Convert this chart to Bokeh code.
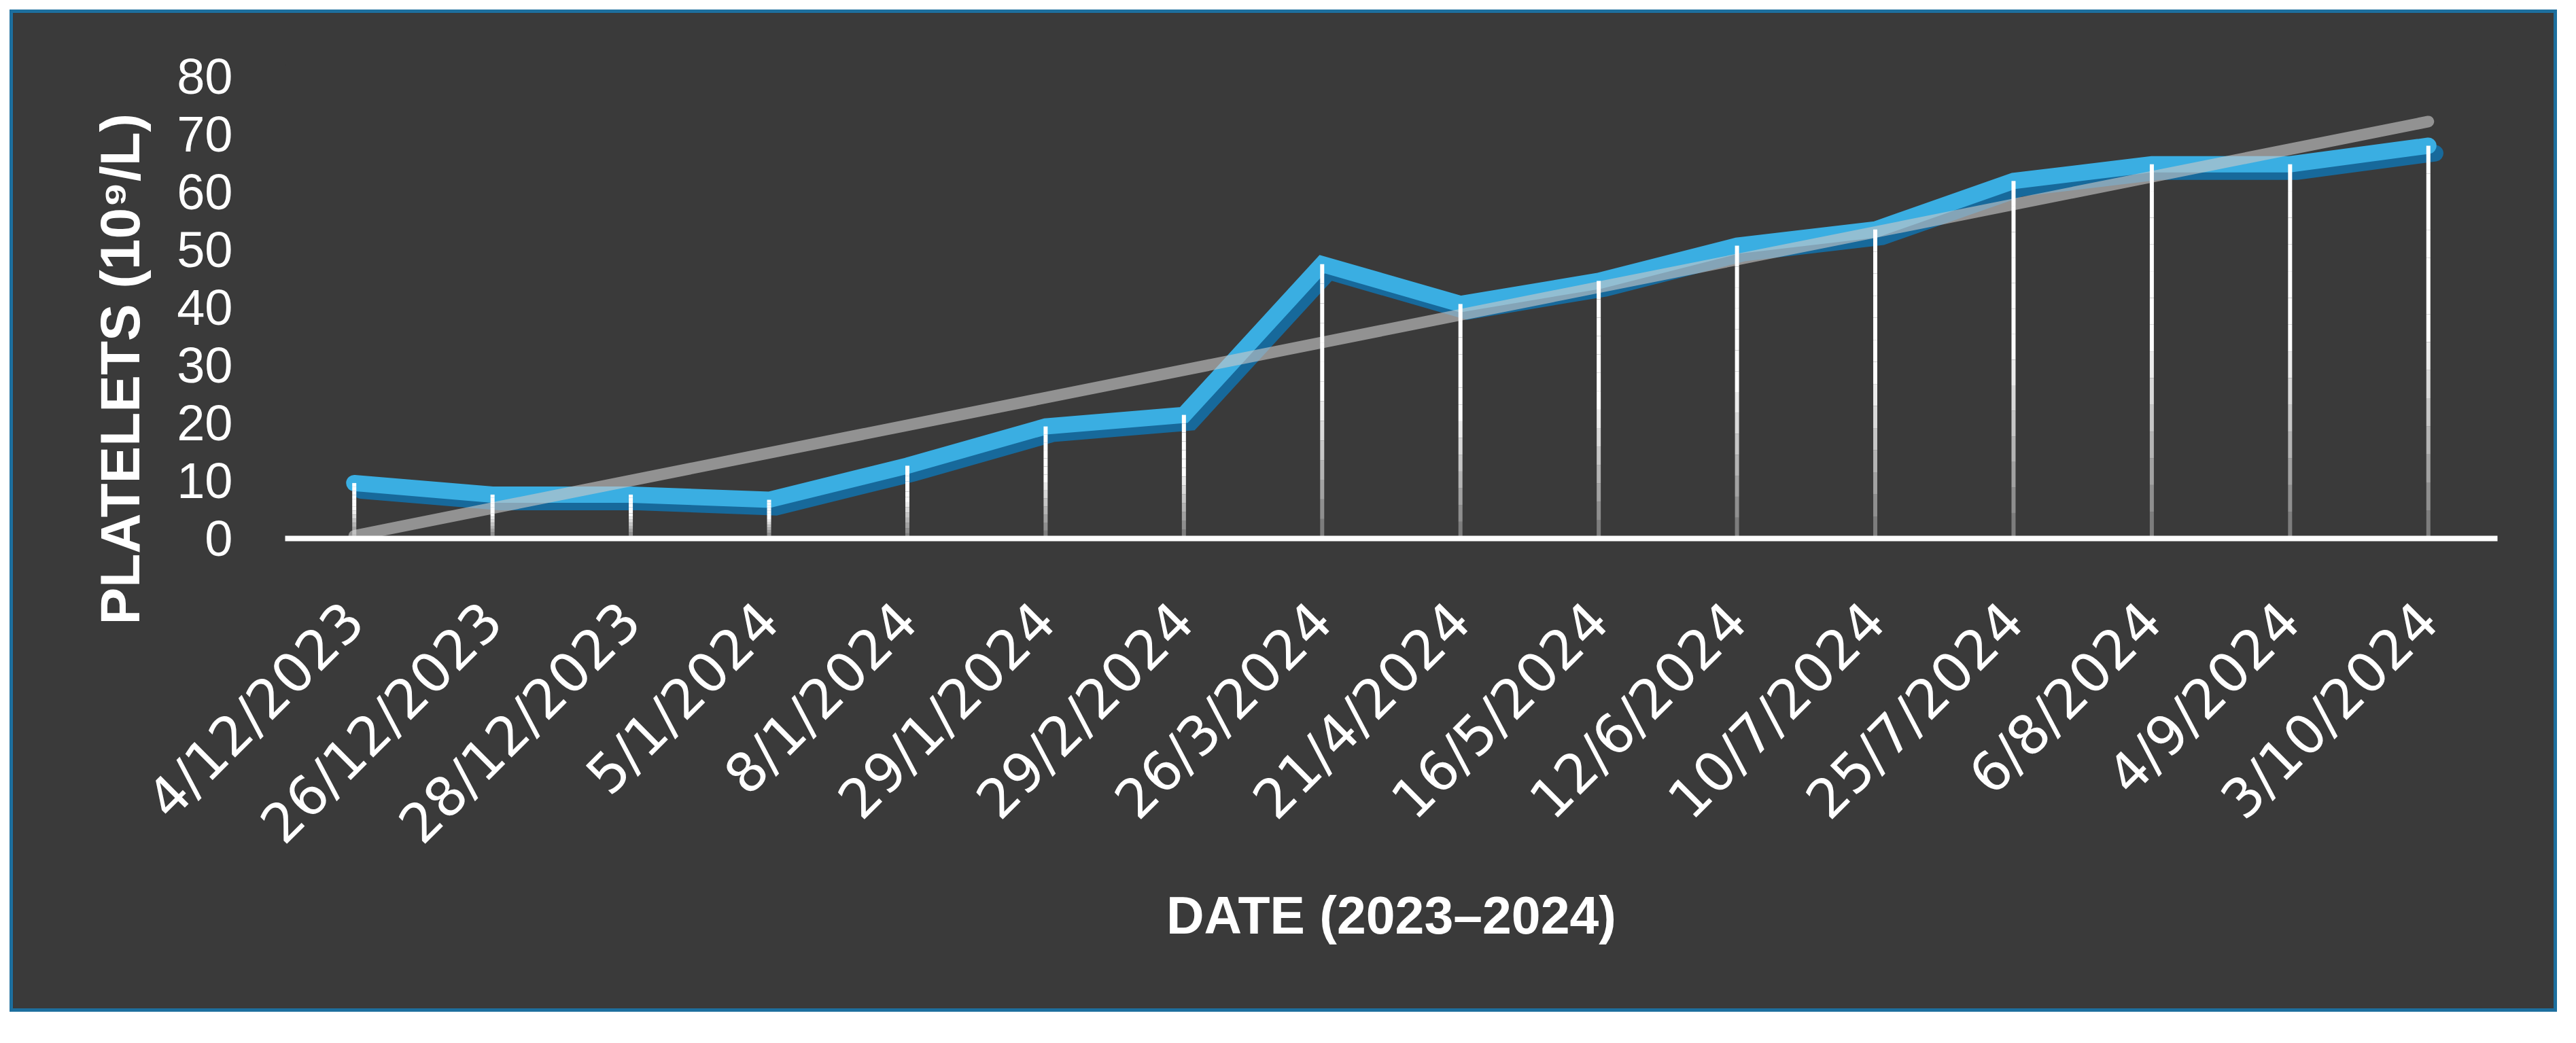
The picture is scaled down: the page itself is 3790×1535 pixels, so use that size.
import numpy as np
from bokeh.plotting import figure
from bokeh.models import FactorRange, Range1d, FixedTicker, Title, ColumnDataSource
from bokeh.transform import dodge
from bokeh.embed import file_html
from bokeh.resources import INLINE

# ---- data ----
dates = ["4/12/2023", "26/12/2023", "28/12/2023", "5/1/2024", "8/1/2024",
         "29/1/2024", "29/2/2024", "26/3/2024", "21/4/2024", "16/5/2024",
         "12/6/2024", "10/7/2024", "25/7/2024", "6/8/2024", "4/9/2024",
         "3/10/2024"]
platelets = [9.6, 7.6, 7.6, 6.7, 12.6, 19.4, 21.4, 47.5, 40.6, 44.6,
             50.7, 53.5, 61.9, 64.8, 64.8, 68.0]
y_ticks = [0, 10, 20, 30, 40, 50, 60, 70, 80]
x_title = "DATE (2023\u20132024)"
y_title = "PLATELETS (10\u2079/L)"

BG = "#3a3a3a"
BLUE = "#3aaee2"
BLUE_DARK = "#17699b"

p = figure(x_range=FactorRange(*dates, range_padding=0),
           y_range=Range1d(0, 82),
           width=3748, height=1475,
           output_backend="svg", toolbar_location=None,
           min_border_left=400, min_border_right=93,
           min_border_top=76, min_border_bottom=702,
           background_fill_color=BG, border_fill_color=BG,
           outline_line_color=None,
           margin=(14, 0, 0, 14),
           styles={"border": "5px solid #1d6f9e", "background-color": BG})

p.xgrid.grid_line_color = None
p.ygrid.grid_line_color = None

# axes
p.xaxis.axis_line_color = "white"
p.xaxis.axis_line_width = 8
p.xaxis.major_tick_line_color = None
p.xaxis.minor_tick_line_color = None
p.xaxis.major_label_orientation = np.pi / 4
p.xaxis.major_label_standoff = 102
p.xaxis.major_label_text_color = "white"
p.xaxis.major_label_text_font = "DejaVu Sans"
p.xaxis.major_label_text_font_size = "80px"
p.xaxis.axis_label = x_title
p.xaxis.axis_label_text_color = "white"
p.xaxis.axis_label_text_font = "Liberation Sans"
p.xaxis.axis_label_text_font_style = "bold"
p.xaxis.axis_label_text_font_size = "77px"
p.xaxis.axis_label_standoff = 9

p.yaxis.ticker = FixedTicker(ticks=y_ticks)
p.yaxis.axis_line_color = None
p.yaxis.major_tick_line_color = None
p.yaxis.minor_tick_line_color = None
p.yaxis.major_tick_out = 0
p.yaxis.major_label_standoff = 77
p.yaxis.major_label_text_color = "white"
p.yaxis.major_label_text_font = "Liberation Sans"
p.yaxis.major_label_text_font_size = "74px"

src = ColumnDataSource(dict(x=dates, y=platelets))

# shadow of the series line
p.line(x=dodge("x", 0.05, range=p.x_range), y=dodge("y", -1.3, range=p.y_range),
       source=src, line_color=BLUE_DARK, line_width=24,
       line_join="miter", line_cap="round")
# series line
p.line(x="x", y="y", source=src, line_color=BLUE, line_width=24,
       line_join="miter", line_cap="round")

# linear trend line (least-squares fit of the series)
idx = np.arange(len(platelets))
slope, intercept = np.polyfit(idx, platelets, 1)
trend_y = [intercept, intercept + slope * idx[-1]]
p.line(x=[dates[0], dates[-1]], y=trend_y, line_color="#c8c8c8",
       line_alpha=0.62, line_width=17, line_cap="round")

# drop lines (white, fading towards the axis)
n = 14
x0, y0, y1, al = [], [], [], []
for d, v in zip(dates, platelets):
    for k in range(n):
        f0 = k / n
        f1 = (k + 1) / n
        x0.append(d)
        y0.append(v * f0)
        y1.append(v * f1)
        al.append(min(1.0, 0.25 + 1.3 * f1))
p.segment(x0=x0, y0=y0, x1=x0, y1=y1, line_color="white",
          line_alpha=al, line_width=6, line_cap="butt")

# y axis title (starts below the frame bottom, as in the reference)
p.add_layout(Title(text=y_title, align="left", offset=-127, standoff=72,
                   text_color="white", text_font="Liberation Sans",
                   text_font_style="bold", text_font_size="82px"), "left")

open("out.html", "w").write(file_html(p, INLINE))
